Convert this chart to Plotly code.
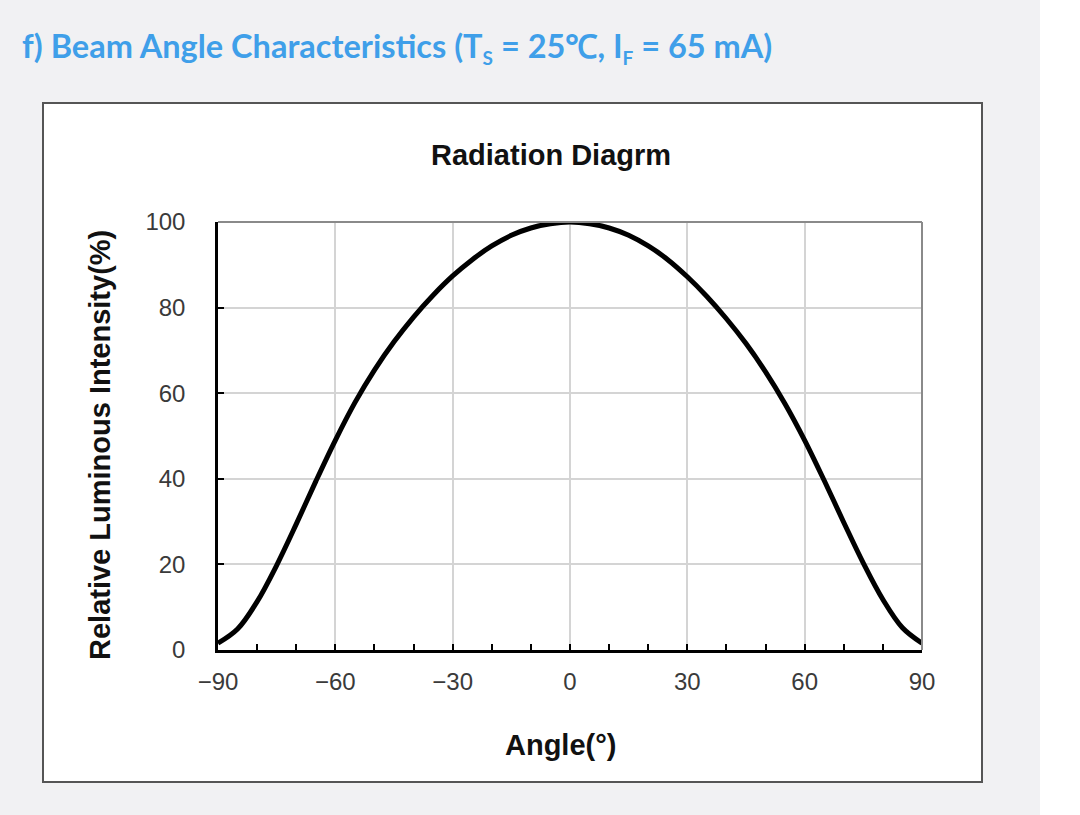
import plotly.graph_objects as go

angles = [-90, -85, -80, -75, -70, -65, -60, -55, -50, -45, -40, -35, -30, -25, -20, -15, -10, -5,
          0, 5, 10, 15, 20, 25, 30, 35, 40, 45, 50, 55, 60, 65, 70, 75, 80, 85, 90]
intensity = [1.6, 4.9, 11.3, 19.8, 29.4, 39.4, 49.0, 57.8, 65.4, 72.0, 77.8, 82.9, 87.4, 91.2, 94.4, 96.9, 98.6, 99.6,
             100.0, 99.6, 98.6, 96.9, 94.4, 91.2, 87.2, 82.6, 77.4, 71.6, 65.0, 57.5, 49.0, 39.6, 29.8, 20.3, 11.8, 5.2, 1.6]

x_ticks = [-90, -60, -30, 0, 30, 60, 90]
y_ticks = [0, 20, 40, 60, 80, 100]

page_title = ("f) Beam Angle Characteristics (T<sub><span style='font-size:19px'>S</span></sub> = 25℃, "
              "I<sub><span style='font-size:19px'>F</span></sub> = 65 mA)")
chart_title = "Radiation Diagrm"
x_title = "Angle(°)"
y_title = "Relative Luminous Intensity(%)"

W, H = 1080, 815
L, R, T, B = 218, 158, 222, 165
PW, PH = W - L - R, H - T - B


def px(x):
    return (x - L) / PW


def py(y):
    return (H - B - y) / PH


fig = go.Figure()
fig.add_trace(go.Scatter(x=angles, y=intensity, mode="lines",
                         line=dict(color="black", width=5, shape="spline", smoothing=1.0),
                         hoverinfo="skip", showlegend=False, cliponaxis=False))

tick_font = dict(family="Liberation Sans", size=24, color="#3a3a3a")
fig.update_xaxes(range=[-90, 90], tickvals=x_ticks, ticks="inside", ticklen=6, tickwidth=1.5,
                 tickcolor="black", showgrid=True, gridcolor="#d4d4d4", gridwidth=1.5,
                 zeroline=False, showline=True, linecolor="black", linewidth=2.5,
                 tickfont=tick_font, ticklabelstandoff=8,
                 minor=dict(dtick=10, tick0=-90, ticks="inside", ticklen=6, tickwidth=1.5,
                            tickcolor="black", showgrid=False))
fig.update_yaxes(range=[0, 100], tickvals=y_ticks, ticks="inside", ticklen=6, tickwidth=1.5,
                 tickcolor="black", showgrid=True, gridcolor="#d4d4d4", gridwidth=1.5,
                 zeroline=False, showline=True, linecolor="black", linewidth=2.5,
                 tickfont=tick_font, ticklabelstandoff=25)

shapes = [
    dict(type="rect", xref="paper", yref="paper", x0=px(43), x1=px(982), y0=py(103), y1=py(782),
         fillcolor="white", line=dict(color="#555555", width=2), layer="below"),
    dict(type="rect", xref="paper", yref="paper", x0=px(1040), x1=px(1085), y0=py(-5), y1=py(820),
         fillcolor="white", line=dict(width=0), layer="below"),
    dict(type="line", xref="paper", yref="paper", x0=0, x1=1, y0=1, y1=1,
         line=dict(color="#8a8a8a", width=2), layer="above"),
    dict(type="line", xref="paper", yref="paper", x0=1, x1=1, y0=0, y1=1,
         line=dict(color="#8a8a8a", width=2), layer="above"),
]

annotations = [
    dict(text=page_title, xref="paper", yref="paper", x=px(20), y=py(47), xanchor="left", yanchor="middle",
         showarrow=False, font=dict(family="Lato", size=32.5, color="#3f9fe9", weight="bold")),
    dict(text="<b>" + chart_title + "</b>", xref="paper", yref="paper", x=px(551), y=py(155),
         xanchor="center", yanchor="middle", showarrow=False,
         font=dict(family="Liberation Sans", size=29, color="#111111")),
    dict(text="<b>" + x_title + "</b>", xref="paper", yref="paper", x=px(560), y=py(745),
         xanchor="center", yanchor="middle", showarrow=False,
         font=dict(family="Liberation Sans", size=29, color="#111111")),
    dict(text="<b>" + y_title + "</b>", xref="paper", yref="paper", x=px(100), y=py(445),
         xanchor="center", yanchor="middle", showarrow=False, textangle=-90,
         font=dict(family="Liberation Sans", size=29, color="#111111")),
]

fig.update_layout(width=W, height=H, autosize=False,
                  margin=dict(l=L, r=R, t=T, b=B, pad=0),
                  paper_bgcolor="#f1f1f3", plot_bgcolor="white",
                  shapes=shapes, annotations=annotations, showlegend=False)

fig.write_html("out.html")
